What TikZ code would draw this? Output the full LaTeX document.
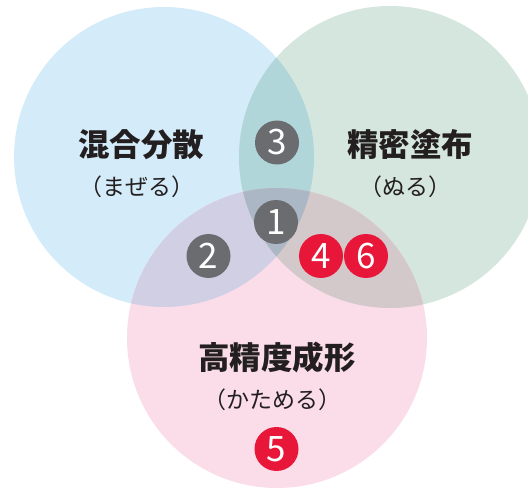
\documentclass[tikz,border=0pt]{standalone}
\usepackage{fontspec}
\setmainfont{Noto Sans CJK JP}
\definecolor{cblue}{HTML}{D4ECF9}
\definecolor{cgreen}{HTML}{D5E6DE}
\definecolor{cpink}{HTML}{FADDE8}
\definecolor{cbg}{HTML}{B0D6D9}
\definecolor{cbp}{HTML}{D0CFE4}
\definecolor{cgp}{HTML}{D3C8CA}
\definecolor{call}{HTML}{ABB7C4}
\definecolor{badgegray}{HTML}{6B6C70}
\definecolor{badgered}{HTML}{E8173A}
\definecolor{txt}{HTML}{231F20}
\tikzset{
  title/.style={font=\bfseries\fontsize{31.5}{36}\selectfont, text=txt, inner sep=0pt},
  reading/.style={font=\fontsize{23}{26}\selectfont, text=txt, inner sep=0pt},
  gbadge/.style={circle, fill=badgegray, minimum size=44pt, inner sep=0pt, text=white, font=\fontsize{35}{35}\selectfont},
  rbadge/.style={circle, fill=badgered, minimum size=44pt, inner sep=0pt, text=white, font=\fontsize{35}{35}\selectfont},
}
\begin{document}
\begin{tikzpicture}[x=1pt,y=-1pt]
\useasboundingbox (0,0) rectangle (528,489);
\clip (0,0) rectangle (528,489);
\def\cA{(164,157) circle (150)}
\def\cB{(390,157) circle (151)}
\def\cC{(277,338) circle (150)}
\fill[cblue] \cA;
\fill[cgreen] \cB;
\fill[cpink] \cC;
\begin{scope}\clip \cA; \fill[cbg] \cB; \end{scope}
\begin{scope}\clip \cA; \fill[cbp] \cC; \end{scope}
\begin{scope}\clip \cB; \fill[cgp] \cC; \end{scope}
\begin{scope}\clip \cA; \clip \cB; \fill[call] \cC; \end{scope}
\node[title] (t1) at (141,145) {混合分散};
\node[reading] (r1) at (137,187) {（まぜる）};
\node[title] (t2) at (410,145) {精密塗布};
\node[reading] (r2) at (405,187) {（ぬる）};
\node[title] (t3) at (277,357) {高精度成形};
\node[reading] (r3) at (272,400) {（かためる）};
\node[gbadge] (b3) at (277,142.5) {3};
\node[gbadge] (b1) at (276,222) {1};
\node[gbadge] (b2) at (208.5,256) {2};
\node[rbadge] (b4) at (321,256) {4};
\node[rbadge] (b6) at (366,256) {6};
\node[rbadge] (b5) at (276.5,449) {5};
\end{tikzpicture}
\end{document}
